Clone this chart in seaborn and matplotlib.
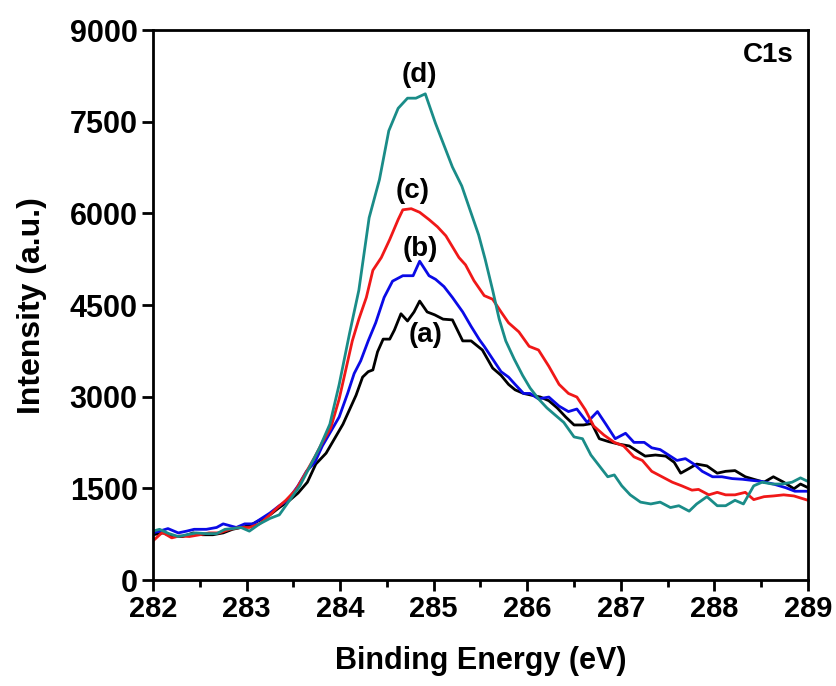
import numpy as np
import pandas as pd
import matplotlib
matplotlib.use("Agg")
import matplotlib.pyplot as plt
import seaborn as sns

# ---- data ----
x_a = [282.0, 282.11, 282.21, 282.32, 282.43, 282.53, 282.64, 282.75, 282.85, 282.94,
       283.03, 283.14, 283.25, 283.35, 283.46, 283.55, 283.65, 283.74, 283.85, 283.94,
       284.03, 284.10, 284.17, 284.24, 284.30, 284.35, 284.40, 284.46, 284.53, 284.58,
       284.65, 284.72, 284.79, 284.85, 284.93, 285.01, 285.10, 285.20, 285.31, 285.40,
       285.52, 285.63, 285.72, 285.80, 285.87, 285.96, 286.05, 286.14, 286.23, 286.32,
       286.41, 286.50, 286.60, 286.69, 286.77, 286.87, 286.98, 287.09, 287.18, 287.26,
       287.37, 287.48, 287.57, 287.64, 287.73, 287.81, 287.92, 288.03, 288.12, 288.22,
       288.33, 288.42, 288.53, 288.63, 288.74, 288.85, 288.92, 289.0]
y_a = [741, 771, 712, 712, 771, 741, 741, 771, 830, 860,
       890, 978, 1067, 1186, 1305, 1423, 1601, 1898, 2076, 2313,
       2550, 2787, 3024, 3321, 3410, 3439, 3736, 3943, 3943, 4092,
       4358, 4240, 4388, 4566, 4388, 4341, 4270, 4258, 3914, 3914,
       3765, 3469, 3350, 3202, 3113, 3054, 3024, 2995, 2935, 2817,
       2669, 2538, 2538, 2562, 2313, 2265, 2224, 2194, 2105, 2028,
       2046, 2028, 1927, 1749, 1826, 1898, 1868, 1749, 1779, 1791,
       1690, 1649, 1601, 1690, 1601, 1494, 1571, 1512]

x_b = [282.0, 282.07, 282.16, 282.27, 282.36, 282.44, 282.57, 282.68, 282.75, 282.89,
       282.98, 283.07, 283.16, 283.25, 283.35, 283.44, 283.55, 283.64, 283.73, 283.81,
       283.90, 283.99, 284.08, 284.15, 284.22, 284.30, 284.38, 284.47, 284.56, 284.67,
       284.78, 284.85, 284.95, 285.02, 285.11, 285.20, 285.31, 285.40, 285.49, 285.54,
       285.63, 285.72, 285.80, 285.87, 285.96, 286.03, 286.12, 286.23, 286.34, 286.44,
       286.53, 286.64, 286.75, 286.84, 286.94, 287.05, 287.14, 287.25, 287.33, 287.42,
       287.51, 287.60, 287.69, 287.78, 287.87, 287.98, 288.08, 288.19, 288.30, 288.40,
       288.51, 288.63, 288.76, 288.86, 289.0]
y_b = [771, 800, 842, 771, 800, 830, 830, 860, 919, 860,
       919, 919, 1008, 1097, 1216, 1305, 1542, 1779, 1927, 2194,
       2431, 2669, 3054, 3380, 3588, 3914, 4210, 4625, 4892, 4981,
       4981, 5218, 4981, 4922, 4803, 4625, 4388, 4151, 3930, 3825,
       3617, 3410, 3321, 3202, 3054, 3054, 2965, 2995, 2846, 2757,
       2799, 2580, 2757, 2550, 2313, 2402, 2253, 2253, 2164, 2135,
       2046, 1957, 1987, 1898, 1779, 1690, 1690, 1660, 1649, 1631,
       1613, 1571, 1512, 1453, 1453]

x_c = [282.0, 282.1, 282.2, 282.28, 282.39, 282.5, 282.6, 282.71, 282.82, 282.93,
       283.03, 283.14, 283.25, 283.33, 283.42, 283.53, 283.62, 283.73, 283.81, 283.90,
       283.99, 284.06, 284.13, 284.20, 284.28, 284.35, 284.44, 284.53, 284.62, 284.67,
       284.76, 284.85, 284.95, 285.04, 285.13, 285.20, 285.27, 285.34, 285.43, 285.54,
       285.63, 285.72, 285.80, 285.91, 286.02, 286.12, 286.23, 286.34, 286.44, 286.53,
       286.62, 286.71, 286.82, 286.93, 287.03, 287.14, 287.23, 287.33, 287.44, 287.55,
       287.65, 287.76, 287.83, 287.94, 288.03, 288.12, 288.22, 288.33, 288.42, 288.53,
       288.63, 288.74, 288.85, 289.0]
y_c = [640, 780, 690, 720, 712, 741, 771, 771, 830, 860,
       860, 919, 1067, 1186, 1305, 1483, 1720, 2016, 2253, 2491,
       2965, 3439, 3914, 4270, 4625, 5070, 5278, 5574, 5900, 6060,
       6078, 6019, 5900, 5782, 5634, 5456, 5278, 5159, 4900, 4655,
       4596, 4388, 4210, 4062, 3825, 3765, 3499, 3202, 3054, 2995,
       2787, 2520, 2372, 2253, 2194, 2016, 1957, 1779, 1690, 1601,
       1542, 1471, 1483, 1394, 1435, 1394, 1394, 1435, 1316, 1364,
       1376, 1394, 1376, 1305]

x_d = [282.0, 282.07, 282.17, 282.27, 282.36, 282.46, 282.57, 282.68, 282.77, 282.85,
       282.94, 283.03, 283.14, 283.25, 283.35, 283.46, 283.57, 283.67, 283.78, 283.89,
       283.99, 284.10, 284.20, 284.31, 284.42, 284.52, 284.62, 284.72, 284.81, 284.91,
       285.02, 285.11, 285.20, 285.30, 285.39, 285.48, 285.55, 285.63, 285.70, 285.77,
       285.86, 285.95, 286.03, 286.12, 286.21, 286.30, 286.39, 286.50, 286.59, 286.68,
       286.77, 286.86, 286.93, 287.01, 287.10, 287.21, 287.32, 287.42, 287.53, 287.62,
       287.73, 287.81, 287.92, 288.03, 288.12, 288.22, 288.31, 288.42, 288.51, 288.62,
       288.72, 288.83, 288.92, 289.0]
y_d = [800, 830, 760, 712, 741, 771, 759, 759, 830, 842,
       860, 800, 919, 1008, 1067, 1305, 1542, 1838, 2164, 2550,
       3202, 4032, 4744, 5930, 6553, 7353, 7721, 7887, 7887, 7958,
       7472, 7116, 6760, 6450, 6049, 5650, 5250, 4744, 4270, 3914,
       3617, 3350, 3143, 2965, 2817, 2698, 2580, 2342, 2313, 2046,
       1868, 1690, 1720, 1542, 1394, 1275, 1245, 1275, 1186, 1216,
       1127, 1245, 1364, 1216, 1216, 1305, 1245, 1542, 1601, 1571,
       1571, 1601, 1672, 1613]

series_names = ["(a)", "(b)", "(c)", "(d)"]
series_colors = ["#000000", "#0a0ae6", "#f01818", "#1a8c88"]
label_x = [284.91, 284.86, 284.78, 284.85]
label_y = [4003, 5426, 6375, 8265]

x_ticks = [282, 283, 284, 285, 286, 287, 288, 289]
y_ticks = [0, 1500, 3000, 4500, 6000, 7500, 9000]

frames = []
for name, xs, ys in zip(series_names, [x_a, x_b, x_c, x_d], [y_a, y_b, y_c, y_d]):
    frames.append(pd.DataFrame({"energy": xs, "intensity": ys, "sample": name}))
df = pd.concat(frames, ignore_index=True)

sns.set_theme(style="ticks")
plt.rcParams["font.family"] = ["Liberation Sans", "DejaVu Sans"]
plt.rcParams["font.weight"] = "bold"
plt.rcParams["text.color"] = "black"
plt.rcParams["axes.labelcolor"] = "black"
plt.rcParams["xtick.color"] = "black"
plt.rcParams["ytick.color"] = "black"

fig = plt.figure(figsize=(8.36, 6.86), dpi=100)
ax = fig.add_axes([0.183, 0.1545, 0.7835, 0.8015])

sns.lineplot(data=df, x="energy", y="intensity", hue="sample",
             palette=dict(zip(series_names, series_colors)),
             hue_order=series_names, sort=False, estimator=None,
             linewidth=2.0, legend=False, ax=ax)

for name, lx, ly in zip(series_names, label_x, label_y):
    ax.text(lx, ly, name, ha="center", va="center", fontsize=20, fontweight="bold",
            color="black")
ax.text(288.85, 8590, "C1s", ha="right", va="center", fontsize=20, fontweight="bold",
        color="black")

ax.set_xlim(282, 289)
ax.set_ylim(0, 9000)
ax.set_xticks(x_ticks)
ax.set_xticks([v + 0.5 for v in x_ticks[:-1]], minor=True)
ax.set_yticks(y_ticks)
ax.set_xticklabels([str(v) for v in x_ticks], fontsize=21, fontweight="bold")
ax.set_yticklabels([str(v) for v in y_ticks], fontsize=22, fontweight="bold")
ax.set_xlabel("Binding Energy (eV)", fontsize=22, fontweight="bold", labelpad=16)
ax.set_ylabel("Intensity (a.u.)", fontsize=23, fontweight="bold", labelpad=16)

for s in ax.spines.values():
    s.set_visible(True)
    s.set_linewidth(2.0)
    s.set_color("black")
ax.tick_params(axis="both", which="major", direction="out", length=8, width=2,
               color="black", pad=3, top=False, right=False)
ax.tick_params(axis="x", which="minor", direction="out", length=5, width=2,
               color="black", top=False)

fig.savefig("out.png", dpi=100, facecolor="white")
